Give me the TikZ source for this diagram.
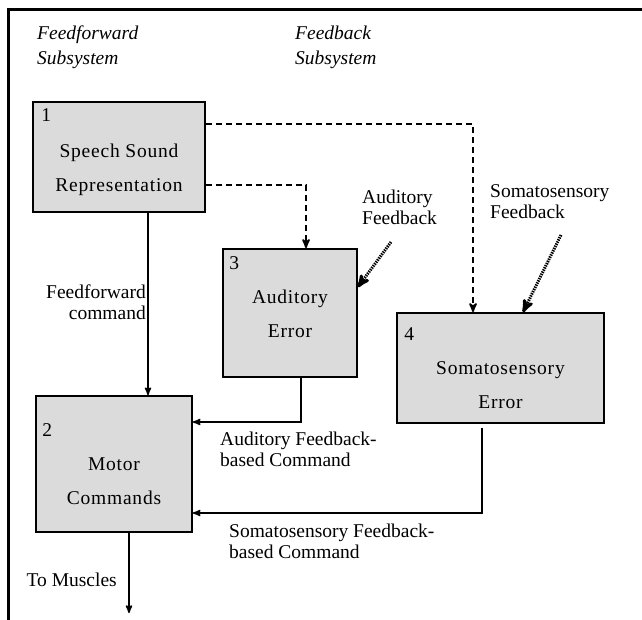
\documentclass[tikz,border=0pt]{standalone}
\usepackage{fontspec}
\setmainfont{Liberation Serif}
\newfontfamily\boxfont[LetterSpace=4]{Liberation Serif}
\usepackage{tikz}
\usetikzlibrary{arrows,positioning}

\begin{document}
\begin{tikzpicture}[x=1pt,y=-1pt,>=stealth',
  font=\fontsize{19.5}{21}\selectfont,
  block/.style={draw,line width=1.8pt,fill=gray!28,inner sep=0pt},
  box text/.style={align=center,font=\fontsize{19.5}{21}\selectfont\boxfont},
  num/.style={inner sep=0pt},
  cmd/.style={->,line width=1.6pt},
  fwd/.style={->,line width=2pt,dash pattern=on 6pt off 4pt},
  fb/.style={->,line width=3pt,dash pattern=on 1.4pt off 1pt},
  lbl/.style={align=left,inner sep=0pt}]

  \useasboundingbox (0,0) rectangle (642,620);
  \draw[line width=3pt] (8,620) -- (8,10) -- (642,10);

  % headings
  \node[lbl,anchor=west,font=\fontsize{19.5}{25}\selectfont\itshape] (ffhead) at (37,47) {Feedforward\\Subsystem};
  \node[lbl,anchor=west,font=\fontsize{19.5}{25}\selectfont\itshape] (fbhead) at (295,47) {Feedback\\Subsystem};

  % blocks
  \node[block,minimum width=172pt,minimum height=110pt] (ssr) at (119,157) {};
  \node[block,minimum width=156pt,minimum height=136pt] (mot) at (114,464) {};
  \node[block,minimum width=134pt,minimum height=128pt] (aud) at (290,313) {};
  \node[block,minimum width=207pt,minimum height=110pt] (som) at (500.5,368) {};

  \node[num,below right=7pt and 9pt of ssr.north west] (n1) {1};
  \node[num,below right=28pt and 7pt of mot.north west] (n2) {2};
  \node[num,below right=8pt and 7pt of aud.north west] (n3) {3};
  \node[num,below right=15pt and 8pt of som.north west] (n4) {4};

  \node[box text] (ssrtext) at ([yshift=-13pt]ssr.center) {Speech Sound\\[13pt]Representation};
  \node[box text] (mottext) at ([yshift=-17pt]mot.center) {Motor\\[13pt]Commands};
  \node[box text] (audtext) at ([yshift=-1pt]aud.center) {Auditory\\[13pt]Error};
  \node[box text] (somtext) at ([yshift=-17pt]som.center) {Somatosensory\\[13pt]Error};

  % free ends
  \coordinate (audin) at (391,242);
  \coordinate (somin) at (561,235);
  \coordinate (muscles) at (129,613);

  % connectors
  \draw[cmd] ([xshift=29pt]ssr.south) -- ([xshift=29pt]ssr.south |- mot.north);
  \draw[fwd] ([yshift=-23pt]ssr.north east) -| ([xshift=-27.5pt]som.north);
  \draw[fwd] ([yshift=28pt]ssr.south east) -| ([xshift=16pt]aud.north);
  \draw[fb] (audin) -- ([yshift=-39pt]aud.north east);
  \draw[fb] (somin) -- ([xshift=22.5pt]som.north);
  \draw[cmd] ([xshift=11pt]aud.south) |- ([yshift=42pt]mot.east);
  \draw[cmd] ([xshift=-18.5pt,yshift=-4pt]som.south) |- ([yshift=-49pt]mot.east);
  \draw[cmd] ([xshift=15pt]mot.south) -- (muscles);

  % labels
  \node[lbl,align=right,anchor=east] (fflbl) at (146,302) {Feedforward\\command};
  \node[lbl,anchor=west] (audlbl) at (362,207) {Auditory\\Feedback};
  \node[lbl,anchor=west] (somlbl) at (490,202) {Somatosensory\\Feedback};
  \node[lbl,anchor=west] (audcmd) at (220,449) {Auditory Feedback-\\based Command};
  \node[lbl,anchor=west] (somcmd) at (229,541) {Somatosensory Feedback-\\based Command};
  \node[lbl,anchor=east] (muslbl) at (117,580) {To Muscles};
\end{tikzpicture}
\end{document}
